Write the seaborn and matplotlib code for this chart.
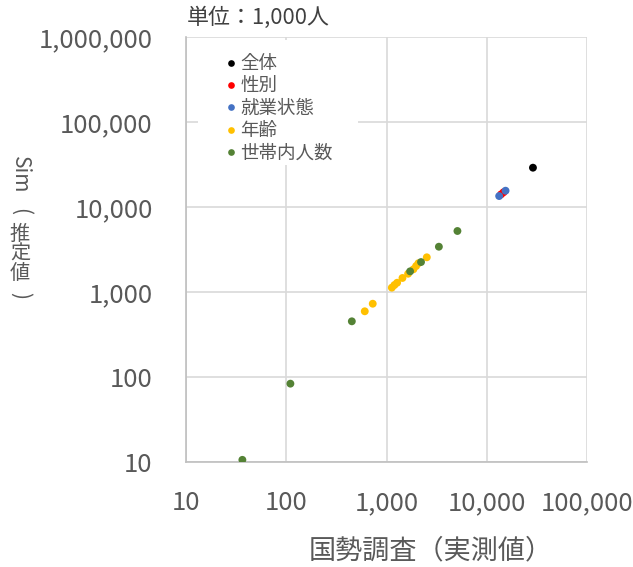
import numpy as np
import pandas as pd
import matplotlib
matplotlib.use("Agg")
import matplotlib.pyplot as plt
from matplotlib.patches import Rectangle
from matplotlib.ticker import FixedLocator, FuncFormatter, NullLocator
import seaborn as sns

# 系列ごとの (国勢調査 実測値, Sim 推定値), 単位: 1,000人
categories = ["全体", "性別", "就業状態", "年齢", "世帯内人数"]
colors = ["#000000", "#ff0000", "#4472c4", "#ffc000", "#548235"]

total_obs = [28900]
total_sim = [29000]

sex_obs = [13900, 14700]
sex_sim = [14100, 14900]

work_obs = [13300, 15400]
work_sim = [13450, 15550]

age_obs = [607, 729, 1130, 1200, 1276, 1443, 1643, 1855, 1974, 2080, 2523]
age_sim = [593, 728, 1125, 1208, 1285, 1462, 1640, 1850, 2020, 2180, 2560]

hh_obs = [36.5, 110, 451, 1720, 2210, 3330, 5100]
hh_sim = [10.6, 83.5, 452, 1750, 2250, 3410, 5220]

tick_values = [10, 100, 1000, 10000, 100000, 1000000]

obs_by_cat = [total_obs, sex_obs, work_obs, age_obs, hh_obs]
sim_by_cat = [total_sim, sex_sim, work_sim, age_sim, hh_sim]
df = pd.DataFrame({
    "obs": np.concatenate(obs_by_cat),
    "sim": np.concatenate(sim_by_cat),
    "cat": np.concatenate([[c] * len(v) for c, v in zip(categories, obs_by_cat)]),
})

sns.set_theme(style="white")
plt.rcParams["font.family"] = ["Noto Sans CJK JP", "DejaVu Sans"]

W, H = 633, 567
GREY = "#595959"
fig = plt.figure(figsize=(W / 100, H / 100), dpi=100)
ax_l, ax_t, ax_r, ax_b = 186, 37, 587, 462
ax = fig.add_axes([ax_l / W, 1 - ax_b / H, (ax_r - ax_l) / W, (ax_b - ax_t) / H])

sns.scatterplot(data=df, x="obs", y="sim", hue="cat", hue_order=categories,
                palette=dict(zip(categories, colors)), s=32, linewidth=0,
                ax=ax, zorder=3)

ax.set_xscale("log")
ax.set_yscale("log")
ax.set_xlim(10, 100000)
ax.set_ylim(10, 1000000)

fmt = FuncFormatter(lambda v, p: f"{int(round(v)):,}")
ax.xaxis.set_major_locator(FixedLocator(tick_values[:5]))
ax.yaxis.set_major_locator(FixedLocator(tick_values))
ax.xaxis.set_minor_locator(NullLocator())
ax.yaxis.set_minor_locator(NullLocator())
ax.xaxis.set_major_formatter(fmt)
ax.yaxis.set_major_formatter(fmt)

ax.grid(True, which="major", color="#d9d9d9", linewidth=1.2)
ax.set_axisbelow(True)
for side in ["top", "right"]:
    ax.spines[side].set_visible(False)
for side in ["left", "bottom"]:
    ax.spines[side].set_color("#bfbfbf")
    ax.spines[side].set_linewidth(1.2)

ax.tick_params(axis="x", length=0, pad=20, labelsize=18.5, labelcolor=GREY)
ax.tick_params(axis="y", length=0, pad=24, labelsize=18.5, labelcolor=GREY)

ax.set_xlabel("")
ax.set_ylabel("")
fig.text(431 / W, 1 - 551 / H, "国勢調査（実測値）", fontsize=19.5, color=GREY,
         ha="center", va="center")

# 縦書きの軸ラベル
lab_kw = dict(color=GREY, ha="center", va="center")
fig.text(20 / W, 1 - 175 / H, "Sim", rotation=-90, fontsize=15, **lab_kw)
fig.text(20 / W, 1 - 212 / H, "(", rotation=-90, fontsize=15, **lab_kw)
fig.text(20 / W, 1 - 254 / H, "推\n定\n値", fontsize=14.5, linespacing=0.93, **lab_kw)
fig.text(20 / W, 1 - 295 / H, ")", rotation=-90, fontsize=15, **lab_kw)

fig.text(187 / W, 1 - 18 / H, "単位：1,000人", fontsize=15.8,
         color="#404040", ha="left", va="center")

# 凡例の白い背景 (枠線なし)
def px_to_axes(x, y):
    return (x - ax_l) / (ax_r - ax_l), (ax_b - y) / (ax_b - ax_t)

bx0, by0 = px_to_axes(198, 165)
bx1, by1 = px_to_axes(358, 40)
ax.add_patch(Rectangle((bx0, by0), bx1 - bx0, by1 - by0, transform=ax.transAxes,
                       facecolor="white", edgecolor="none", zorder=1))

lx, ly = px_to_axes(222, 55)
leg = ax.legend(loc="upper left", bbox_to_anchor=(lx, ly), frameon=False,
                fontsize=13.3, labelcolor=GREY, borderpad=0, borderaxespad=0,
                handlelength=1.0, handletextpad=0.0, labelspacing=0.24,
                markerscale=0.85)

fig.savefig("out.png", dpi=100)
